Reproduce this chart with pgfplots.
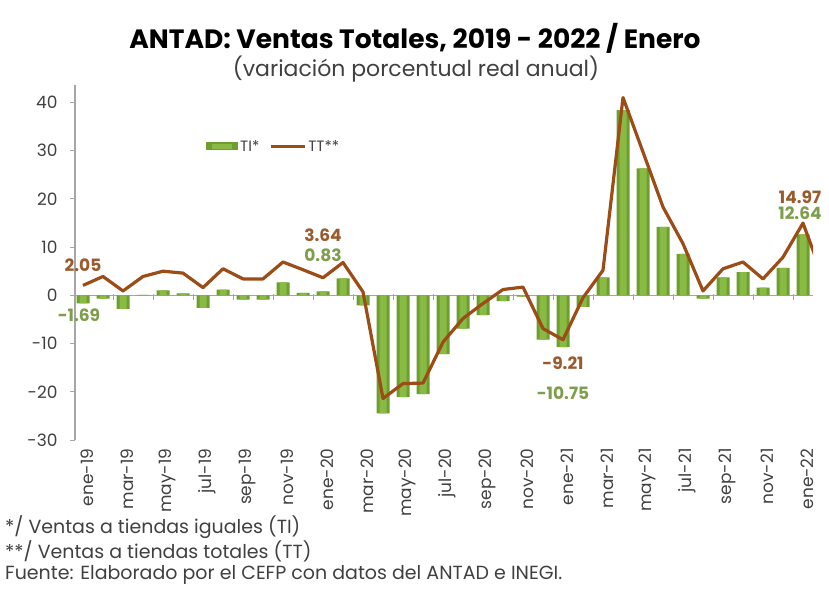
\documentclass[border=0pt]{standalone}
\usepackage{fontspec}
\setmainfont{Poppins}
\usepackage{pgfplots}
\usepackage{pgfplotstable}
\pgfplotsset{compat=1.18}

\definecolor{tiDark}{HTML}{6E9E30}
\definecolor{tiLight}{HTML}{88BA44}
\definecolor{ttBrown}{HTML}{9C4C16}
\definecolor{labBrown}{HTML}{9A5A2C}
\definecolor{labGreen}{HTML}{7E9E4C}
\definecolor{axGray}{HTML}{A6A6A6}
\definecolor{txtGray}{HTML}{404040}

% TI: ventas a tiendas iguales, ene-19 .. ene-22
\pgfplotstableread{
idx ti
0 -1.69
1 -0.7
2 -2.8
3 0.1
4 1.0
5 0.4
6 -2.6
7 1.2
8 -0.9
9 -0.9
10 2.7
11 0.5
12 0.83
13 3.5
14 -2.1
15 -24.5
16 -21.1
17 -20.5
18 -12.2
19 -6.9
20 -4.1
21 -1.2
22 -0.3
23 -9.2
24 -10.75
25 -2.4
26 3.7
27 38.4
28 26.3
29 14.2
30 8.6
31 -0.7
32 3.7
33 4.8
34 1.6
35 5.7
36 12.64
}\tidata

% TT: ventas a tiendas totales, ene-19 .. feb-22
\pgfplotstableread{
idx tt
0 2.05
1 3.9
2 0.9
3 3.9
4 5.0
5 4.6
6 1.6
7 5.5
8 3.4
9 3.4
10 6.9
11 5.3
12 3.64
13 6.8
14 0.7
15 -21.4
16 -18.3
17 -18.2
18 -9.7
19 -4.8
20 -1.7
21 1.2
22 1.7
23 -6.9
24 -9.21
25 -0.5
26 5.2
27 41.0
28 29.7
29 18.3
30 10.7
31 0.9
32 5.5
33 6.9
34 3.4
35 7.9
36 14.97
37 3.7
}\ttdata

\begin{document}
\begin{tikzpicture}
\path[use as bounding box] (-75pt,-174pt) rectangle (754pt,440pt);
\begin{axis}[
  at={(0pt,0pt)}, anchor=south west,
  scale only axis, width=738pt, height=355pt,
  xmin=-0.4, xmax=36.5, ymin=-30, ymax=43.6,
  clip mode=individual,
  axis lines*=left,
  x axis line style={draw=none},
  y axis line style={axGray, line width=1.2pt},
  xtick={0,2,...,36},
  xticklabels={ene-19,mar-19,may-19,jul-19,sep-19,nov-19,ene-20,mar-20,may-20,jul-20,sep-20,nov-20,ene-21,mar-21,may-21,jul-21,sep-21,nov-21,ene-22},
  x tick style={draw=none},
  xticklabel style={xshift=4pt, rotate=90, anchor=east, font=\fontsize{17}{20}\selectfont, text=txtGray},
  ytick={-30,-20,...,40},
  y tick style={axGray, line width=1pt},
  tick align=outside, major tick length=5pt,
  yticklabel style={xshift=-9pt, font=\fontsize{17}{20}\selectfont, text=txtGray},
  /pgf/number format/assume math mode=true,
  legend style={at={(axis cs:6.0,30.9)}, anchor=west, draw=none, fill=none,
    font=\fontsize{15}{17}\selectfont, text=txtGray, legend columns=2,
    /tikz/every even column/.append style={column sep=8pt}},
]
\addplot[axGray, line width=1.2pt, forget plot] coordinates {(-0.4,0) (36.5,0)};
\addplot[only marks, mark=|, mark size=3pt, axGray, mark options={line width=1pt, yshift=-2pt}, forget plot]
  coordinates {(1.5,0) (3.5,0) (5.5,0) (7.5,0) (9.5,0) (11.5,0) (13.5,0) (15.5,0) (17.5,0) (19.5,0) (21.5,0) (23.5,0) (25.5,0) (27.5,0) (29.5,0) (31.5,0) (33.5,0) (35.5,0)};
\addplot[ybar, bar width=13pt, draw=none, fill=tiDark,
  legend image code/.code={\fill[tiDark] (0pt,-4pt) rectangle (32pt,4pt);
    \fill[tiLight] (6pt,-2.5pt) rectangle (26pt,2.5pt);}]
  table[x=idx, y=ti] {\tidata};
\addlegendentry{TI*}
\addplot[ybar, bar width=7pt, draw=none, fill=tiLight, forget plot]
  table[x=idx, y=ti] {\tidata};
\addplot[ttBrown, line width=3.2pt, line join=round, mark=none,
  legend image code/.code={\draw[ttBrown, line width=3pt] (0pt,0pt) -- (34pt,0pt);}]
  table[x=idx, y=tt] {\ttdata};
\addlegendentry{TT**}
\begin{scope}[font=\bfseries\fontsize{17}{20}\selectfont]
\node[text=labBrown] at (axis cs:0,6.2) {2.05};
\node[text=labGreen] at (axis cs:-0.2,-4.1) {-1.69};
\node[text=labBrown] at (axis cs:12,12.4) {3.64};
\node[text=labGreen] at (axis cs:12,8.3) {0.83};
\node[text=labBrown] at (axis cs:24,-14.1) {-9.21};
\node[text=labGreen] at (axis cs:24,-20.3) {-10.75};
\node[text=labBrown] at (axis cs:35.85,20.3) {14.97};
\node[text=labGreen] at (axis cs:35.85,17.0) {12.64};
\end{scope}
\end{axis}
\node[font=\bfseries\fontsize{26.5}{30}\selectfont] at (340pt,402pt) {ANTAD: Ventas Totales, 2019 - 2022 / Enero};
\node[font=\fontsize{22}{25}\selectfont, text=txtGray] at (341pt,371pt) {(variación porcentual real anual)};
\begin{scope}[font=\fontsize{19}{22}\selectfont, text=txtGray]
\node[anchor=west, inner sep=0pt] at (-70pt,-87pt) {*/ Ventas a tiendas iguales (TI)};
\node[anchor=west, inner sep=0pt] at (-70pt,-111pt) {**/ Ventas a tiendas totales (TT)};
\node[anchor=west, inner sep=0pt] at (-70pt,-135pt) {Fuente: Elaborado por el CEFP con datos del ANTAD e INEGI.};
\end{scope}
\end{tikzpicture}
\end{document}
